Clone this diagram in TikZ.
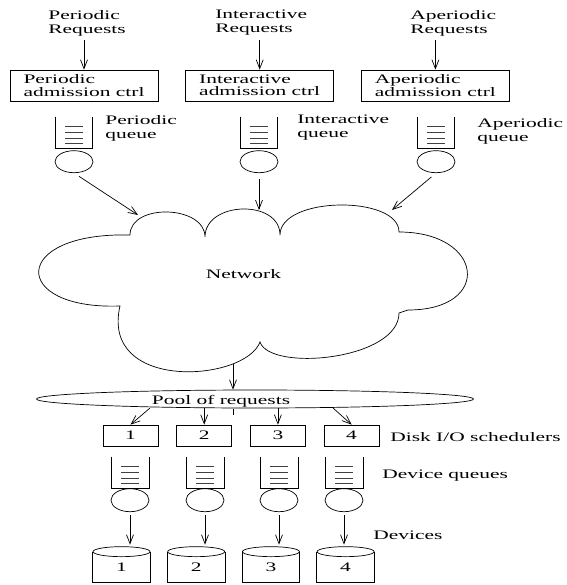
\documentclass[tikz,border=0pt]{standalone}
\usepackage{fontspec}
\setmainfont{Liberation Serif}[FakeStretch=1.65]
\usetikzlibrary{shapes.geometric, positioning, arrows.meta}

\begin{document}
\begin{tikzpicture}[
        x=1pt, y=-1pt,
        line width=0.7pt,
        font=\fontsize{13}{14}\selectfont,
        txt/.style={align=left, inner sep=0pt, anchor=west},
        admbox/.style={
            rectangle,
            draw,
            minimum width=148pt,
            minimum height=31pt,
            inner sep=2pt,
            align=left,
            font=\fontsize{13}{12.5}\selectfont
        },
        queuebox/.style={rectangle, inner sep=0pt, minimum width=36pt, minimum height=31pt},
        server/.style={ellipse, draw, inner sep=0pt, minimum width=38pt, minimum height=22pt},
        sched/.style={rectangle, draw, inner sep=0pt, minimum width=55pt, minimum height=21pt},
        disk/.style={rectangle, inner sep=0pt, minimum width=57pt, minimum height=30pt},
        arrow/.style={-{Straight Barb[length=9pt,width=7pt]}},
        qline/.style={line width=0.5pt, draw=black!75}
    ]
    \useasboundingbox (0,0) rectangle (566,585);

    % --- Request sources ---
    \node[txt] (preq) at (48,23) {Periodic\\Requests};
    \node[txt] (ireq) at (215,23) {Interactive\\Requests};
    \node[txt] (areq) at (410,23) {Aperiodic\\Requests};

    % --- Admission control ---
    \node[admbox] (padm) at (84,85.5) {Periodic\\admission ctrl};
    \node[admbox, right=27pt of padm] (iadm) {Interactive\\admission ctrl};
    \node[admbox, right=27pt of iadm] (aadm) {Aperiodic\\admission ctrl};

    % --- Class queues ---
    \node[queuebox] (pq) at (74,132.5) {};
    \node[queuebox] (iq) at (259,132.5) {};
    \node[queuebox] (aq) at (436,132.5) {};
    \node[server, below=2pt of pq] (pc) {};
    \node[server, below=2pt of iq] (ic) {};
    \node[server, below=2pt of aq] (ac) {};
    \node[txt] (pql) at (105,128) {Periodic\\queue};
    \node[txt] (iql) at (297,128) {Interactive\\queue};
    \node[txt] (aql) at (477,131) {Aperiodic\\queue};

    % --- Network ---
    \draw (130,235) .. controls (130,203) and (205,205) .. (205,237)
        .. controls (205,201) and (280,199) .. (280,235)
        .. controls (280,196) and (399,195) .. (399,232)
        .. controls (484,232) and (493,310) .. (408,310)
        -- (399,313)
        .. controls (399,360) and (270,372) .. (260,342)
        .. controls (245,382) and (100,392) .. (120,306)
        .. controls (10,310) and (10,232) .. (130,235) -- cycle;
    \node (net) at (243.5,274.5) {Network};
    \coordinate (cin1) at (138,215);
    \coordinate (cin2) at (259,210);
    \coordinate (cin3) at (392,210);
    \coordinate (cout) at (233,364);

    % --- Pool and schedulers ---
    \node[ellipse, draw, inner sep=0pt, minimum width=437pt, minimum height=18pt] (pool) at (255,399) {};
    \node (ptxt) at (221,401) {Pool of requests};
    \node[sched] (s1) at (130.5,435.5) {1};
    \node[sched, right=18pt of s1] (s2) {2};
    \node[sched, right=18pt of s2] (s3) {3};
    \node[sched, right=18pt of s3] (s4) {4};
    \node[txt] (schedlbl) at (390,437.5) {Disk I/O schedulers};
    \coordinate (p1) at (150,408);
    \coordinate (p4) at (333,408);

    % --- Device queues and devices ---
    \foreach \i/\x in {1/130,2/205,3/279,4/344}{
        \node[queuebox, minimum width=37pt] (dq\i) at (\x,472.5) {};
        \node[server, minimum height=23pt, below=0pt of dq\i] (dc\i) {};
    }
    \node[txt] (dqlbl) at (382,476) {Device queues};
    \node[disk] (d1) at (121.5,567) {1};
    \node[disk, right=17pt of d1] (d2) {2};
    \node[disk, right=17pt of d2] (d3) {3};
    \node[disk, right=17pt of d3] (d4) {4};
    \node[txt] (devlbl) at (373,535.5) {Devices};

    % queue outlines
    \foreach \q in {pq,iq,aq,dq1,dq2,dq3,dq4}{
        \draw (\q.north west) -- (\q.south west) -- (\q.south east) -- (\q.north east);
        \foreach \h in {5,10.5,16,22}
            \draw[qline] ([xshift=-9pt,yshift=\h]\q.south) -- ([xshift=9pt,yshift=\h]\q.south);
    }
    % disk outlines
    \foreach \i in {1,...,4}{
        \draw (d\i.north west) -- (d\i.south west) -- (d\i.south east) -- (d\i.north east);
        \draw (d\i.north) ellipse [x radius=28.5pt, y radius=5pt];
    }

    % --- Arrows ---
    \draw[arrow, shorten <=4pt] (preq.south -| padm.north) -- (padm.north);
    \draw[arrow, shorten <=4pt] (ireq.south -| iadm.north) -- (iadm.north);
    \draw[arrow, shorten <=4pt] (areq.south -| aadm.north) -- (aadm.north);
    \draw[arrow, shorten <=6pt] (pc.south) -- (cin1);
    \draw[arrow, shorten <=6pt] (ic.south) -- (cin2);
    \draw[arrow, shorten <=6pt] (ac.south) -- (cin3);
    \draw[arrow] (cout) -- (cout |- pool.north);
    \draw ([yshift=-1pt]pool.south -| cout) -- ++(0,6);
    \draw[arrow] (p1) -- (s1.north);
    \draw[arrow] (pool.south -| s2.north) -- (s2.north);
    \draw[arrow] (pool.south -| s3.north) -- (s3.north);
    \draw[arrow] (p4) -- (s4.north);
    \foreach \i in {1,...,4}
        \draw[arrow, shorten <=3pt, shorten >=7pt] (dc\i.south) -- (dc\i.south |- d\i.north);

\end{tikzpicture}
\end{document}
